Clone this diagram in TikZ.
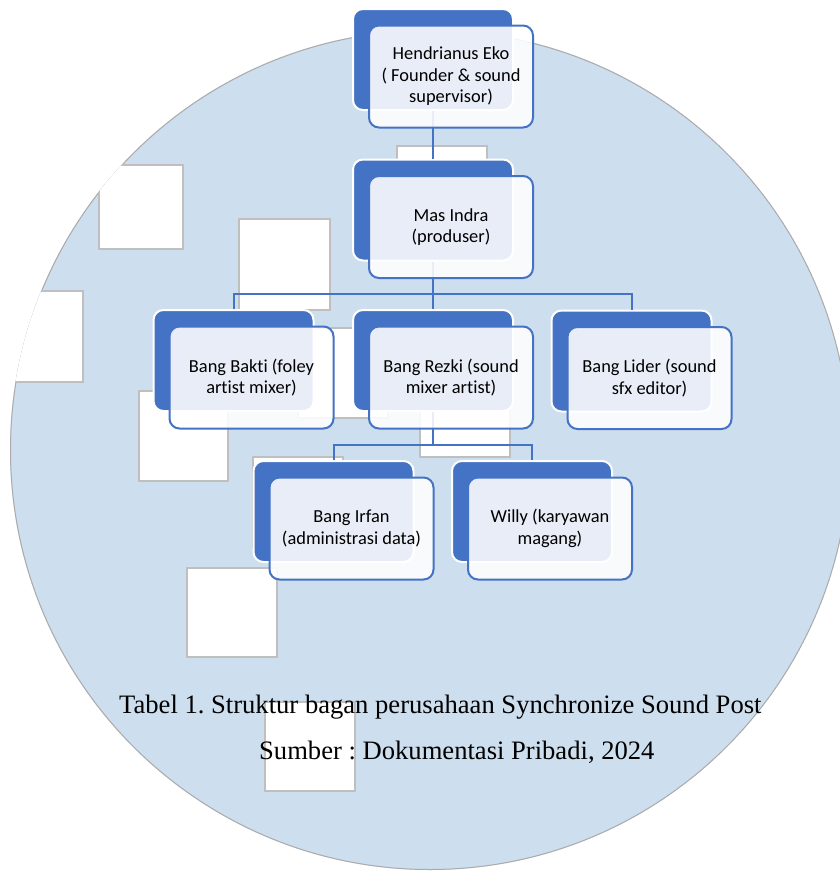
\documentclass[tikz,border=0pt]{standalone}
\usepackage{fontspec}
\setmainfont{Carlito}[Ligatures=NoCommon,RawFeature={-liga;-calt;-dlig}]
\newfontfamily\capfont{Liberation Serif}
\newcommand{\nlg}{\kern0pt }
\definecolor{dblue}{HTML}{4472C4}
\definecolor{circfill}{RGB}{205,222,238}
\definecolor{rgrey}{HTML}{BFBFBF}
\definecolor{cgrey}{HTML}{ABABAB}
\tikzset{
  backbox/.style={draw=white, line width=2pt, fill=dblue, rounded corners=10pt,
    minimum width=160pt, minimum height=101pt, inner sep=0pt},
  frontbox/.style={draw=dblue, line width=2pt, fill=white, fill opacity=0.88,
    text opacity=1, rounded corners=10pt, minimum width=164pt, minimum height=102pt,
    align=center, inner sep=0pt, text=black,
    font=\fontsize{18.4}{21.5}\selectfont},
  conn/.style={draw=dblue, line width=2pt},
  ghost/.style={fill=white, draw=rgrey, line width=1.5pt},
  captext/.style={anchor=base west, inner sep=0pt, text=black,
    font=\capfont\fontsize{26.6}{32}\selectfont\frenchspacing},
}
\begin{document}
\begin{tikzpicture}[x=1pt,y=-1pt]
\useasboundingbox (0,0) rectangle (840,873);
\fill[white] (0,0) rectangle (840,873);
% background circle and stray placeholder rectangles
\begin{scope}
  \clip (430,450) circle[radius=420pt];
  \fill[circfill] (430,450) circle[radius=420pt];
  \draw[cgrey, line width=2pt] (430,450) circle[radius=420pt];
  \draw[ghost] (99,165) rectangle (183,249);
  \draw[ghost] (-10,291) rectangle (83,382);
  \draw[ghost] (239,219) rectangle (330,310);
  \draw[ghost] (139,391) rectangle (228,481);
  \draw[ghost] (187,568) rectangle (277,657);
  \draw[ghost] (265,702) rectangle (355,791);
  \draw[ghost] (397,146) rectangle (487,236);
  \draw[ghost] (298,328) rectangle (388,418);
  \draw[ghost] (420,367) rectangle (510,457);
  \draw[ghost] (253,457) rectangle (343,547);
\end{scope}
% back boxes
\node[backbox] (hb) at (433,59.5) {};
\node[backbox] (mb) at (433,210) {};
\node[backbox] (bb) at (233.5,360.5) {};
\node[backbox] (rb) at (433,360.5) {};
\node[backbox] (lb) at (631.5,361) {};
\node[backbox] (ib) at (333.5,511.5) {};
\node[backbox] (wb) at (532,511.5) {};
% connectors
\coordinate (j1) at (433,294);
\coordinate (j2) at (433,445);
\draw[conn] (hb.south) -- (mb.north);
\draw[conn] (mb.south) -- (j1);
\draw[conn] (j1) -| (bb.north);
\draw[conn] (j1) -| (lb.north);
\draw[conn] (j1) -- (rb.north);
\draw[conn] (rb.south) -- (j2);
\draw[conn] (j2) -| (ib.north);
\draw[conn] (j2) -| (wb.north);
% front boxes
\node[frontbox] (hf) at (451,76.5) {Hendrianus Eko\\( Founder \& sound\\supervisor)};
\node[frontbox] (mf) at (451,227) {Mas Indra\\(produser)};
\node[frontbox] (bf) at (251.5,377.5) {Bang Bakt\nlg i (foley\\art\nlg ist mixer)};
\node[frontbox] (rf) at (451,377.5) {Bang Rezki (sound\\mixer art\nlg ist)};
\node[frontbox] (lf) at (649.5,378) {Bang Lider (sound\\sfx editor)};
\node[frontbox] (if) at (351.5,528.5) {Bang Irfan\\(administrasi data)};
\node[frontbox] (wf) at (550,528.5) {Willy (karyawan\\magang)};
% caption
\node[captext] (cap1) at (119,713) {Tabel 1. Struktur bagan perusahaan Synchronize Sound Post};
\node[captext] (cap2) at (259,759) {Sumber : Dokumentasi Pribadi, 2024};
\end{tikzpicture}
\end{document}
